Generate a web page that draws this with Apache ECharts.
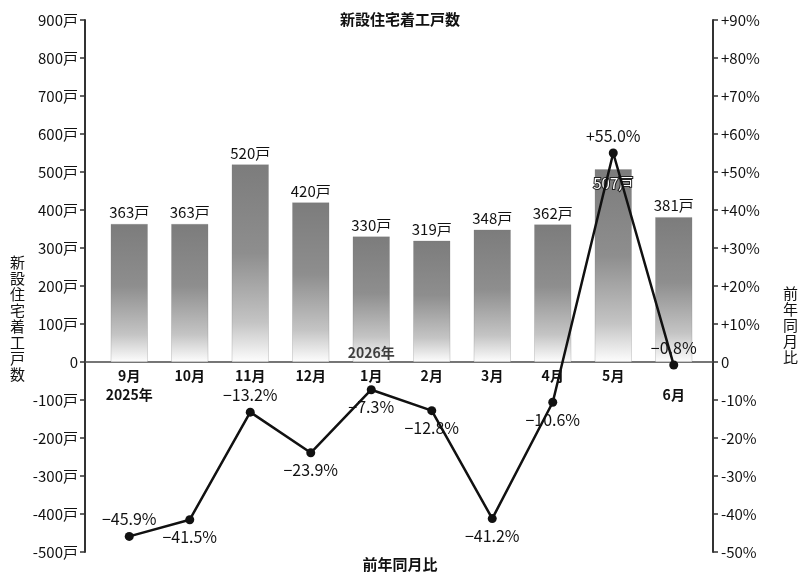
<!DOCTYPE html>
<html><head><meta charset="utf-8">
<script src="https://cdn.jsdelivr.net/npm/echarts@6/dist/echarts.min.js"></script>
<style>html,body{margin:0;padding:0;background:#fff}#c{width:800px;height:578px}</style>
</head><body><div id="c"></div>
<script>
const months = ['9月','10月','11月','12月','1月','2月','3月','4月','5月','6月'];
const starts = [363, 363, 520, 420, 330, 319, 348, 362, 507, 381];
const yoy = [-45.9, -41.5, -13.2, -23.9, -7.3, -12.8, -41.2, -10.6, 55.0, -0.8];
const yearMarks = [['1月', '2026年']];
const leftTicks = [-500, 900, 100];
const rightTicks = [-50, 90, 10];

const FONT = '"Noto Sans CJK JP", "Noto Sans", sans-serif';
const yoyLabelPos = ['top','bottom','top','bottom','bottom','bottom','bottom','bottom','top','top'];

function fmtYoy(v){
  const s = v > 0 ? '+' : (v < 0 ? '\u2212' : '');
  return s + Math.abs(v).toFixed(1) + '%';
}

const chart = echarts.init(document.getElementById('c'));
chart.setOption({
  backgroundColor: '#fff',
  textStyle: { fontFamily: FONT },
  animation: false,
  title: [
    { text: '新設住宅着工戸数', left: 'center', top: 7,
      textStyle: { fontFamily: FONT, fontSize: 15, fontWeight: 'bold', color: '#111' } },
    { text: '前年同月比', left: 'center', top: 552,
      textStyle: { fontFamily: FONT, fontSize: 15, fontWeight: 'bold', color: '#111' } },
    { text: '新\n設\n住\n宅\n着\n工\n戸\n数', left: 5, top: 249,
      textStyle: { fontFamily: FONT, fontSize: 15, fontWeight: 'normal', color: '#111', lineHeight: 16 } },
    { text: '前\n年\n同\n月\n比', left: 778, top: 280,
      textStyle: { fontFamily: FONT, fontSize: 15, fontWeight: 'normal', color: '#111', lineHeight: 16 } }
  ],
  grid: [
    { left: 99, right: 96, top: 20, bottom: 26, outerBoundsMode: 'none', containLabel: false },
    { left: 85, right: 87, top: 20, bottom: 26, outerBoundsMode: 'none', containLabel: false }
  ],
  xAxis: [
    { type: 'category', data: months, gridIndex: 0, position: 'bottom', offset: 0,
      axisLine: { show: false, onZero: false },
      axisTick: { show: false },
      axisLabel: { interval: 0, showMinLabel: true, showMaxLabel: true, hideOverlap: false,
        fontFamily: FONT, fontSize: 14, fontWeight: 'bold', color: '#111', margin: 4, lineHeight: 19,
        formatter: function(v, i){
          if (i === 0) return v + '\n2025年';
          if (i === months.length - 1) return '{e|}\n' + v;
          return v;
        },
        rich: { e: { height: 19, width: 1 } } } },
    { type: 'value', gridIndex: 1, min: 0, max: 1,
      axisLine: { show: true, onZero: true, lineStyle: { color: '#4a4a4a', width: 1.6 } },
      axisTick: { show: false }, axisLabel: { show: false }, splitLine: { show: false } }
  ],
  yAxis: [
    { type: 'value', gridIndex: 0, position: 'left', offset: 14,
      min: leftTicks[0], max: leftTicks[1], interval: leftTicks[2],
      axisLine: { show: true, onZero: false, lineStyle: { color: '#333', width: 2 } },
      axisTick: { show: true, length: 5, lineStyle: { color: '#333', width: 1.5 } },
      splitLine: { show: false },
      axisLabel: { fontFamily: FONT, fontSize: 15, color: '#111', margin: 7,
        formatter: v => v === 0 ? '0' : v + '戸' } },
    { type: 'value', gridIndex: 0, position: 'right', offset: 9,
      min: rightTicks[0], max: rightTicks[1], interval: rightTicks[2],
      axisLine: { show: true, onZero: false, lineStyle: { color: '#333', width: 2 } },
      axisTick: { show: true, length: 5, lineStyle: { color: '#333', width: 1.5 } },
      splitLine: { show: false },
      axisLabel: { fontFamily: FONT, fontSize: 15, color: '#111', margin: 8,
        formatter: v => v > 0 ? '+' + v + '%' : (v === 0 ? '0' : v + '%') } },
    { type: 'value', gridIndex: 1, min: leftTicks[0], max: leftTicks[1], show: false }
  ],
  series: [
    { type: 'bar', xAxisIndex: 0, yAxisIndex: 0, barWidth: 37,
      data: starts.map((v, i) => {
        const d = { value: v };
        if (i === 8) d.label = { position: 'insideTop', distance: 6, color: '#fff', textBorderColor: '#222', textBorderWidth: 2 };
        return d;
      }),
      itemStyle: { color: { type: 'linear', x: 0, y: 0, x2: 0, y2: 1,
        colorStops: [ { offset: 0, color: '#7c7c7c' }, { offset: 0.45, color: '#8e8e8e' }, { offset: 0.8, color: '#c4c4c4' }, { offset: 1, color: '#fdfdfd' } ] },
        borderColor: 'rgba(120,120,120,0.5)', borderWidth: 0.5 },
      label: { show: true, position: 'top', distance: 4, fontFamily: FONT, fontSize: 15, color: '#111',
        formatter: p => p.value + '戸' } },
    { type: 'scatter', xAxisIndex: 0, yAxisIndex: 0, symbolSize: 0,
      data: yearMarks.map(m => ({ value: [m[0], 0], name: m[1] })),
      label: { show: true, position: 'top', distance: 2, fontFamily: FONT, fontSize: 14, fontWeight: 'bold', color: '#111',
        formatter: p => p.name } },
    { type: 'line', xAxisIndex: 0, yAxisIndex: 1, z: 5,
      data: yoy.map((v, i) => ({ value: v, label: { position: yoyLabelPos[i] } })),
      symbol: 'circle', symbolSize: 9,
      lineStyle: { color: '#111', width: 2.5 },
      itemStyle: { color: '#111' },
      label: { show: true, fontFamily: FONT, fontSize: 16, color: '#111', distance: 5,
        formatter: p => fmtYoy(p.value) } }
  ]
});

// Move the category labels up to the zero line, measured through the axis scale.
const zeroPx = chart.convertToPixel({ yAxisIndex: 0 }, 0);
const bottomPx = chart.convertToPixel({ yAxisIndex: 0 }, leftTicks[0]);
chart.setOption({ xAxis: [{ offset: zeroPx - bottomPx }, {}] });
</script></body></html>
